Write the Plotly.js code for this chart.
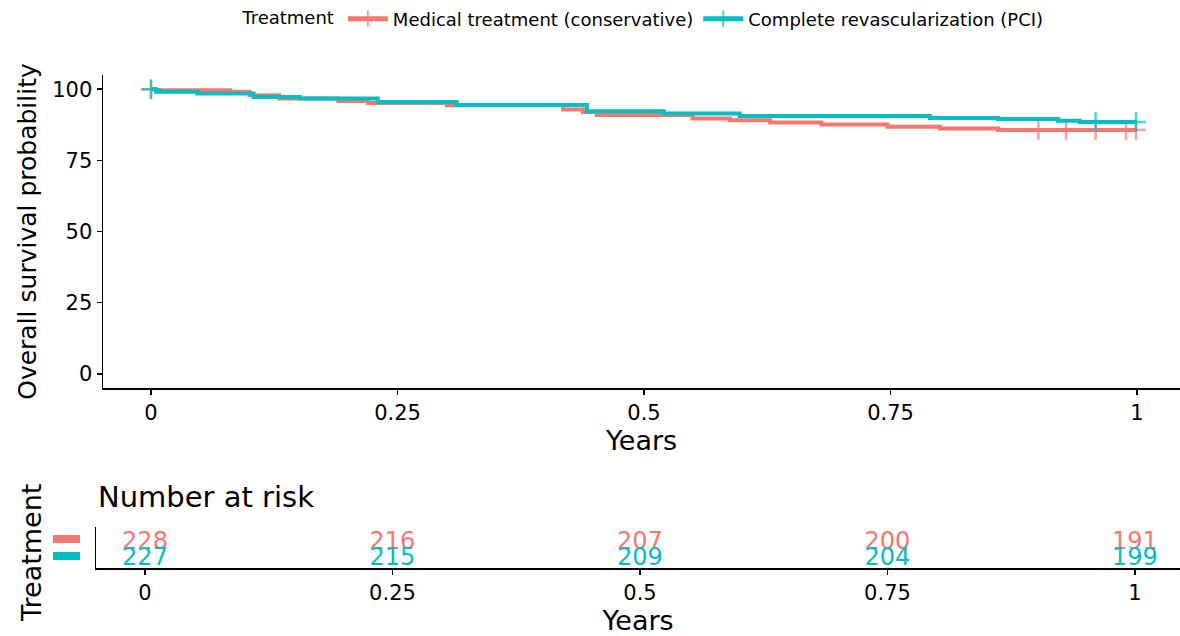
<!DOCTYPE html>
<html>
<head>
<meta charset="utf-8">
<script src="https://cdn.plot.ly/plotly-3.0.1.min.js"></script>
<style>html,body{margin:0;padding:0;background:#fff;}#chart{width:1180px;height:636px;}</style>
</head>
<body>
<div id="chart"></div>
<script>
// ---- Data ----
var groupNames = ["Medical treatment (conservative)", "Complete revascularization (PCI)"];
var groupColors = ["#F8766D", "#00BFC4"];

// Kaplan-Meier step points: time (years) and survival (%)
var medTimes = [0, 0.005, 0.08, 0.10, 0.13, 0.19, 0.22, 0.30, 0.418, 0.438, 0.452, 0.549, 0.587, 0.628, 0.68, 0.747, 0.80, 0.859, 1.0];
var medSurv  = [100, 99.6, 99.1, 97.9, 96.7, 95.9, 95.2, 94.4, 92.9, 92.0, 90.9, 89.7, 89.1, 88.3, 87.6, 86.8, 86.2, 85.7, 85.7];
var pciTimes = [0, 0.005, 0.047, 0.104, 0.151, 0.23, 0.31, 0.442, 0.52, 0.597, 0.79, 0.859, 0.92, 0.942, 1.0];
var pciSurv  = [100, 99.1, 98.5, 97.3, 96.7, 95.5, 94.5, 92.3, 91.5, 90.6, 89.9, 89.5, 88.9, 88.5, 88.5];

// Censoring times
var medCensor = [0, 0.90, 0.928, 0.958, 0.989, 0.999];
var pciCensor = [0, 0.958, 0.999];

// Number at risk table
var riskTimes = [0, 0.25, 0.5, 0.75, 1];
var medRisk = [228, 216, 207, 200, 191];
var pciRisk = [227, 215, 209, 204, 199];

var xTickVals = [0, 0.25, 0.5, 0.75, 1];
var xTickText = ["0", "0.25", "0.5", "0.75", "1"];
var yTickVals = [0, 25, 50, 75, 100];
var yTickText = ["0", "25", "50", "75", "100"];

// ---- Build traces ----
function stepValue(times, surv, t) {
  var v = surv[0];
  for (var i = 0; i < times.length; i++) { if (times[i] <= t) v = surv[i]; }
  return v;
}
function buildCurve(times, surv, censor, name, color) {
  var pts = [];
  times.forEach(function (t, i) { pts.push({x: t, y: surv[i], c: false}); });
  censor.forEach(function (t) { pts.push({x: t, y: stepValue(times, surv, t), c: true}); });
  pts.sort(function (a, b) { return a.x - b.x || (a.c - b.c); });
  return {
    type: "scatter", mode: "lines+markers", name: name,
    x: pts.map(function (p) { return p.x; }),
    y: pts.map(function (p) { return p.y; }),
    xaxis: "x", yaxis: "y",
    line: {color: color, width: 4, shape: "hv"},
    marker: {symbol: "cross-thin-open", size: pts.map(function (p) { return p.c ? 14 : 0; }),
             color: color, line: {color: color, width: 2.5}},
    hoverinfo: "x+y"
  };
}
var FONT = "DejaVu Sans, Verdana, sans-serif";
var traces = [
  buildCurve(medTimes, medSurv, medCensor, groupNames[0], groupColors[0]),
  buildCurve(pciTimes, pciSurv, pciCensor, groupNames[1], groupColors[1]),
  {type: "scatter", mode: "text", x: riskTimes, y: riskTimes.map(function () { return 2; }),
   text: medRisk.map(String), textfont: {color: groupColors[0], size: 24, family: FONT},
   xaxis: "x2", yaxis: "y3", showlegend: false, hoverinfo: "text"},
  {type: "scatter", mode: "text", x: riskTimes, y: riskTimes.map(function () { return 1; }),
   text: pciRisk.map(String), textfont: {color: groupColors[1], size: 24, family: FONT},
   xaxis: "x2", yaxis: "y3", showlegend: false, hoverinfo: "text"}
];

function py(px) { return 1 - px / 636; }
function pxx(px) { return px / 1180; }

var layout = {
  width: 1180, height: 636,
  margin: {l: 0, r: 0, t: 0, b: 0},
  paper_bgcolor: "#fff", plot_bgcolor: "#fff",
  font: {family: FONT, color: "#000"},
  showlegend: true,
  legend: {orientation: "h", x: 0.546, xanchor: "center", y: py(19), yanchor: "middle",
           title: {text: "Treatment", font: {size: 18}, side: "left"},
           font: {size: 18}, itemsizing: "constant", itemwidth: 40},
  xaxis: {domain: [pxx(103), 1], range: [-0.0487, 1.0436], anchor: "y",
          tickvals: xTickVals, ticktext: xTickText, ticks: "outside", ticklen: 5, tickwidth: 1.5,
          tickcolor: "#000", showline: true, linecolor: "#000", linewidth: 1.5,
          showgrid: false, zeroline: false, tickfont: {size: 21},
          title: {text: "Years", font: {size: 27}, standoff: 5}},
  yaxis: {domain: [py(388), py(75)], range: [-5, 105], anchor: "x",
          tickvals: yTickVals, ticktext: yTickText, ticks: "outside", ticklen: 5, tickwidth: 1.5,
          tickcolor: "#000", showline: true, linecolor: "#000", linewidth: 1.5,
          showgrid: false, zeroline: false, tickfont: {size: 21},
          title: {text: "Overall survival probability", font: {size: 25}, standoff: 8}},
  xaxis2: {domain: [pxx(96), 1], range: [-0.0495, 1.0455], anchor: "y3",
           tickvals: xTickVals, ticktext: xTickText, ticks: "outside", ticklen: 5, tickwidth: 1.5,
           tickcolor: "#000", showline: true, linecolor: "#000", linewidth: 1.5,
           showgrid: false, zeroline: false, tickfont: {size: 21},
           title: {text: "Years", font: {size: 27}, standoff: 3}},
  yaxis3: {domain: [py(568), py(527)], range: [0.44, 3.0], anchor: "x2",
           tickvals: [2, 1], showticklabels: false,
           ticks: "", showline: true, linecolor: "#000", linewidth: 1.5,
           showgrid: false, zeroline: false},
  shapes: [
    {type: "rect", xref: "paper", yref: "paper", x0: pxx(53), x1: pxx(80), y0: py(543), y1: py(535),
     fillcolor: groupColors[0], line: {width: 0}},
    {type: "rect", xref: "paper", yref: "paper", x0: pxx(53), x1: pxx(80), y0: py(560), y1: py(552),
     fillcolor: groupColors[1], line: {width: 0}}
  ],
  annotations: [
    {text: "Number at risk", xref: "paper", yref: "paper", x: pxx(96), y: py(497),
     xanchor: "left", yanchor: "middle", showarrow: false, font: {size: 29}},
    {text: "Treatment", xref: "paper", yref: "paper", x: pxx(31), y: py(553),
     xanchor: "center", yanchor: "middle", textangle: -90, showarrow: false, font: {size: 27}}
  ]
};

Plotly.newPlot("chart", traces, layout, {displayModeBar: false, staticPlot: true});
</script>
</body>
</html>
